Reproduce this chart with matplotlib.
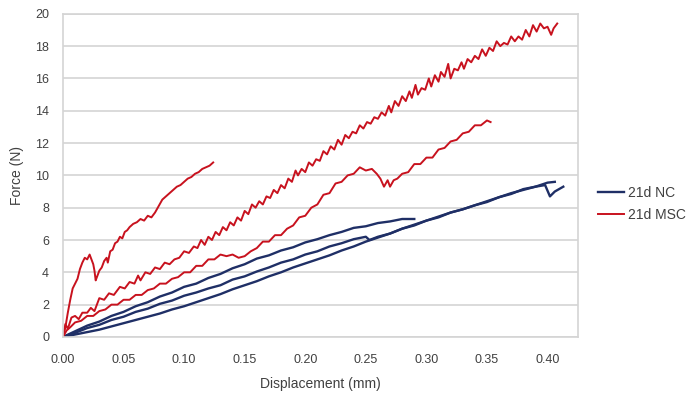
import matplotlib.pyplot as plt

plt.rcParams['font.family'] = ['Liberation Sans', 'DejaVu Sans']

# 21d MSC specimens (displacement mm, force N)
msc_a_x = [0.000, 0.002, 0.004, 0.006, 0.008, 0.010, 0.012, 0.014, 0.016, 0.018,
           0.020, 0.022, 0.023, 0.025, 0.026, 0.027, 0.028, 0.030, 0.032, 0.034,
           0.036, 0.037, 0.039, 0.041, 0.043, 0.045, 0.047, 0.049, 0.051, 0.053,
           0.055, 0.058, 0.061, 0.064, 0.067, 0.070, 0.073, 0.076, 0.079, 0.082,
           0.085, 0.088, 0.091, 0.094, 0.097, 0.100, 0.103, 0.106, 0.109, 0.112,
           0.115, 0.118, 0.121, 0.124]
msc_a_y = [0.0, 0.6, 1.5, 2.3, 3.0, 3.3, 3.6, 4.2, 4.6, 4.9,
           4.8, 5.1, 4.9, 4.5, 4.1, 3.5, 3.7, 4.1, 4.3, 4.7,
           4.9, 4.6, 5.3, 5.4, 5.8, 5.9, 6.2, 6.1, 6.5, 6.6,
           6.8, 7.0, 7.1, 7.3, 7.2, 7.5, 7.4, 7.7, 8.1, 8.5,
           8.7, 8.9, 9.1, 9.3, 9.4, 9.6, 9.8, 9.9, 10.1, 10.2,
           10.4, 10.5, 10.6, 10.8]

msc_b_x = [0.000, 0.002, 0.004, 0.007, 0.010, 0.013, 0.016, 0.020, 0.023, 0.026,
           0.030, 0.034, 0.038, 0.042, 0.047, 0.051, 0.055, 0.059, 0.062, 0.064,
           0.068, 0.072, 0.076, 0.080, 0.084, 0.088, 0.092, 0.096, 0.100, 0.104,
           0.108, 0.111, 0.114, 0.117, 0.120, 0.123, 0.126, 0.129, 0.132, 0.135,
           0.138, 0.141, 0.144, 0.147, 0.150, 0.153, 0.156, 0.159, 0.162, 0.165,
           0.168, 0.171, 0.174, 0.177, 0.180, 0.183, 0.186, 0.189, 0.192, 0.194,
           0.197, 0.200, 0.203, 0.206, 0.209, 0.212, 0.215, 0.218, 0.221, 0.224,
           0.227, 0.230, 0.233, 0.236, 0.239, 0.242, 0.245, 0.248, 0.251, 0.254,
           0.257, 0.260, 0.263, 0.266, 0.269, 0.271, 0.274, 0.277, 0.280, 0.283,
           0.286, 0.288, 0.291, 0.293, 0.296, 0.299, 0.302, 0.304, 0.307, 0.310,
           0.312, 0.315, 0.318, 0.320, 0.323, 0.326, 0.329, 0.331, 0.334, 0.337,
           0.340, 0.343, 0.346, 0.349, 0.352, 0.355, 0.358, 0.361, 0.364, 0.367,
           0.370, 0.373, 0.376, 0.379, 0.382, 0.385, 0.388, 0.391, 0.394, 0.397,
           0.400, 0.403, 0.405, 0.408]
msc_b_y = [0.0, 0.8, 0.5, 1.2, 1.3, 1.1, 1.5, 1.5, 1.8, 1.6,
           2.4, 2.3, 2.7, 2.6, 3.1, 3.0, 3.4, 3.3, 3.8, 3.5,
           4.0, 3.9, 4.3, 4.2, 4.6, 4.5, 4.8, 4.9, 5.3, 5.2,
           5.6, 5.5, 6.0, 5.7, 6.2, 6.0, 6.5, 6.3, 6.8, 6.6,
           7.1, 6.9, 7.4, 7.2, 7.8, 7.6, 8.2, 8.0, 8.4, 8.2,
           8.7, 8.6, 9.1, 8.9, 9.4, 9.2, 9.8, 9.6, 10.3, 10.0,
           10.4, 10.2, 10.8, 10.6, 11.0, 10.9, 11.5, 11.3, 11.8, 11.6,
           12.2, 11.9, 12.5, 12.3, 12.7, 12.6, 13.1, 12.9, 13.3, 13.2,
           13.6, 13.5, 13.9, 13.7, 14.3, 13.9, 14.6, 14.3, 14.9, 14.6,
           15.2, 14.8, 15.6, 15.0, 15.4, 15.3, 16.0, 15.5, 16.2, 15.8,
           16.4, 16.1, 16.9, 16.0, 16.6, 16.5, 17.0, 16.6, 17.2, 17.0,
           17.4, 17.2, 17.8, 17.4, 17.9, 17.7, 18.3, 18.0, 18.2, 18.1,
           18.6, 18.3, 18.6, 18.4, 19.0, 18.6, 19.3, 18.9, 19.4, 19.1,
           19.2, 18.7, 19.1, 19.4]

msc_c_x = [0.000, 0.003, 0.006, 0.010, 0.015, 0.020, 0.025, 0.030, 0.035, 0.040,
           0.045, 0.050, 0.055, 0.060, 0.065, 0.070, 0.075, 0.080, 0.085, 0.090,
           0.095, 0.100, 0.105, 0.110, 0.115, 0.120, 0.125, 0.130, 0.135, 0.140,
           0.145, 0.150, 0.155, 0.160, 0.165, 0.170, 0.175, 0.180, 0.185, 0.190,
           0.195, 0.200, 0.205, 0.210, 0.215, 0.220, 0.225, 0.230, 0.235, 0.240,
           0.245, 0.250, 0.255, 0.259, 0.262, 0.265, 0.268, 0.270, 0.273, 0.276,
           0.280, 0.285, 0.290, 0.295, 0.300, 0.305, 0.310, 0.315, 0.320, 0.325,
           0.330, 0.335, 0.340, 0.345, 0.350, 0.353]
msc_c_y = [0.0, 0.4, 0.6, 0.9, 1.0, 1.3, 1.3, 1.6, 1.7, 2.0,
           2.0, 2.3, 2.3, 2.6, 2.6, 2.9, 3.0, 3.3, 3.3, 3.6,
           3.7, 4.0, 4.0, 4.4, 4.4, 4.8, 4.8, 5.1, 5.0, 5.1,
           4.9, 5.0, 5.3, 5.5, 5.9, 5.9, 6.3, 6.3, 6.7, 6.9,
           7.4, 7.5, 8.0, 8.2, 8.8, 8.9, 9.5, 9.6, 10.0, 10.1,
           10.5, 10.3, 10.4, 10.1, 9.8, 9.3, 9.7, 9.3, 9.7, 9.8,
           10.1, 10.2, 10.7, 10.7, 11.1, 11.1, 11.6, 11.7, 12.1, 12.2,
           12.6, 12.7, 13.1, 13.1, 13.4, 13.3]

# 21d NC specimens
nc_a_x = [0.00, 0.01, 0.02, 0.03, 0.04, 0.05, 0.06, 0.07, 0.08, 0.09,
          0.10, 0.11, 0.12, 0.13, 0.14, 0.15, 0.16, 0.17, 0.18, 0.19,
          0.20, 0.21, 0.22, 0.23, 0.24, 0.25, 0.26, 0.27, 0.28, 0.29]
nc_a_y = [0.0, 0.35, 0.7, 0.95, 1.3, 1.55, 1.9, 2.15, 2.5, 2.75,
          3.1, 3.3, 3.65, 3.9, 4.25, 4.5, 4.85, 5.05, 5.35, 5.55,
          5.85, 6.05, 6.3, 6.5, 6.75, 6.85, 7.05, 7.15, 7.3, 7.3]

nc_b_x = [0.00, 0.01, 0.02, 0.03, 0.04, 0.05, 0.06, 0.07, 0.08, 0.09,
          0.10, 0.11, 0.12, 0.13, 0.14, 0.15, 0.16, 0.17, 0.18, 0.19,
          0.20, 0.21, 0.22, 0.23, 0.24, 0.25, 0.253, 0.26, 0.27, 0.28,
          0.29, 0.30, 0.31, 0.32, 0.33, 0.34, 0.35, 0.36, 0.37, 0.38,
          0.39, 0.40, 0.406]
nc_b_y = [0.0, 0.25, 0.55, 0.75, 1.05, 1.25, 1.55, 1.75, 2.05, 2.25,
          2.55, 2.75, 3.0, 3.2, 3.55, 3.75, 4.05, 4.3, 4.6, 4.8,
          5.1, 5.3, 5.6, 5.8, 6.05, 6.2, 6.0, 6.2, 6.4, 6.7,
          6.9, 7.2, 7.4, 7.7, 7.9, 8.15, 8.35, 8.65, 8.85, 9.15,
          9.3, 9.55, 9.6]

nc_c_x = [0.00, 0.01, 0.02, 0.03, 0.04, 0.05, 0.06, 0.07, 0.08, 0.09,
          0.10, 0.11, 0.12, 0.13, 0.14, 0.15, 0.16, 0.17, 0.18, 0.19,
          0.20, 0.21, 0.22, 0.23, 0.24, 0.25, 0.26, 0.27, 0.28, 0.29,
          0.30, 0.31, 0.32, 0.33, 0.34, 0.35, 0.36, 0.37, 0.38, 0.39,
          0.398, 0.402, 0.406, 0.413]
nc_c_y = [0.0, 0.15, 0.3, 0.45, 0.65, 0.85, 1.05, 1.25, 1.45, 1.7,
          1.9, 2.15, 2.4, 2.65, 2.95, 3.2, 3.45, 3.75, 4.0, 4.3,
          4.55, 4.8, 5.05, 5.35, 5.6, 5.9, 6.15, 6.4, 6.7, 6.95,
          7.2, 7.45, 7.7, 7.9, 8.15, 8.4, 8.65, 8.9, 9.1, 9.3,
          9.4, 8.7, 9.0, 9.3]

x_ticks = [0.00, 0.05, 0.10, 0.15, 0.20, 0.25, 0.30, 0.35, 0.40]
y_ticks = [0, 2, 4, 6, 8, 10, 12, 14, 16, 18, 20]

navy = '#1f2f66'
red = '#c8121e'
grid_col = '#d4d4d4'
text_col = '#404040'

fig = plt.figure(figsize=(6.92, 3.95), dpi=100)
ax = fig.add_axes([0.091, 0.147, 0.744, 0.818])

ax.plot(nc_a_x, nc_a_y, color=navy, lw=1.7, label='21d NC')
ax.plot(nc_b_x, nc_b_y, color=navy, lw=1.7)
ax.plot(nc_c_x, nc_c_y, color=navy, lw=1.7)
ax.plot(msc_a_x, msc_a_y, color=red, lw=1.4, label='21d MSC')
ax.plot(msc_b_x, msc_b_y, color=red, lw=1.4)
ax.plot(msc_c_x, msc_c_y, color=red, lw=1.4)

ax.set_xlim(0, 0.425)
ax.set_ylim(0, 20)
ax.set_xticks(x_ticks)
ax.set_xticklabels(['%.2f' % v for v in x_ticks])
ax.set_yticks(y_ticks)
ax.tick_params(length=0, labelsize=9, colors=text_col)
ax.tick_params(axis='x', pad=12)
ax.tick_params(axis='y', pad=10)
ax.yaxis.grid(True, color=grid_col, lw=1.2)
ax.set_axisbelow(True)
for s in ax.spines.values():
    s.set_color(grid_col)
    s.set_linewidth(1.2)

ax.set_xlabel('Displacement (mm)', fontsize=10, color=text_col, labelpad=8)
ax.set_ylabel('Force (N)', fontsize=10, color=text_col, labelpad=8)

fig.legend(loc='center left', bbox_to_anchor=(0.864, 0.484), frameon=False,
           fontsize=10, handlelength=1.9, handletextpad=0.25, labelspacing=0.55,
           labelcolor=text_col, borderaxespad=0, borderpad=0)

plt.savefig('out.png', dpi=100)
